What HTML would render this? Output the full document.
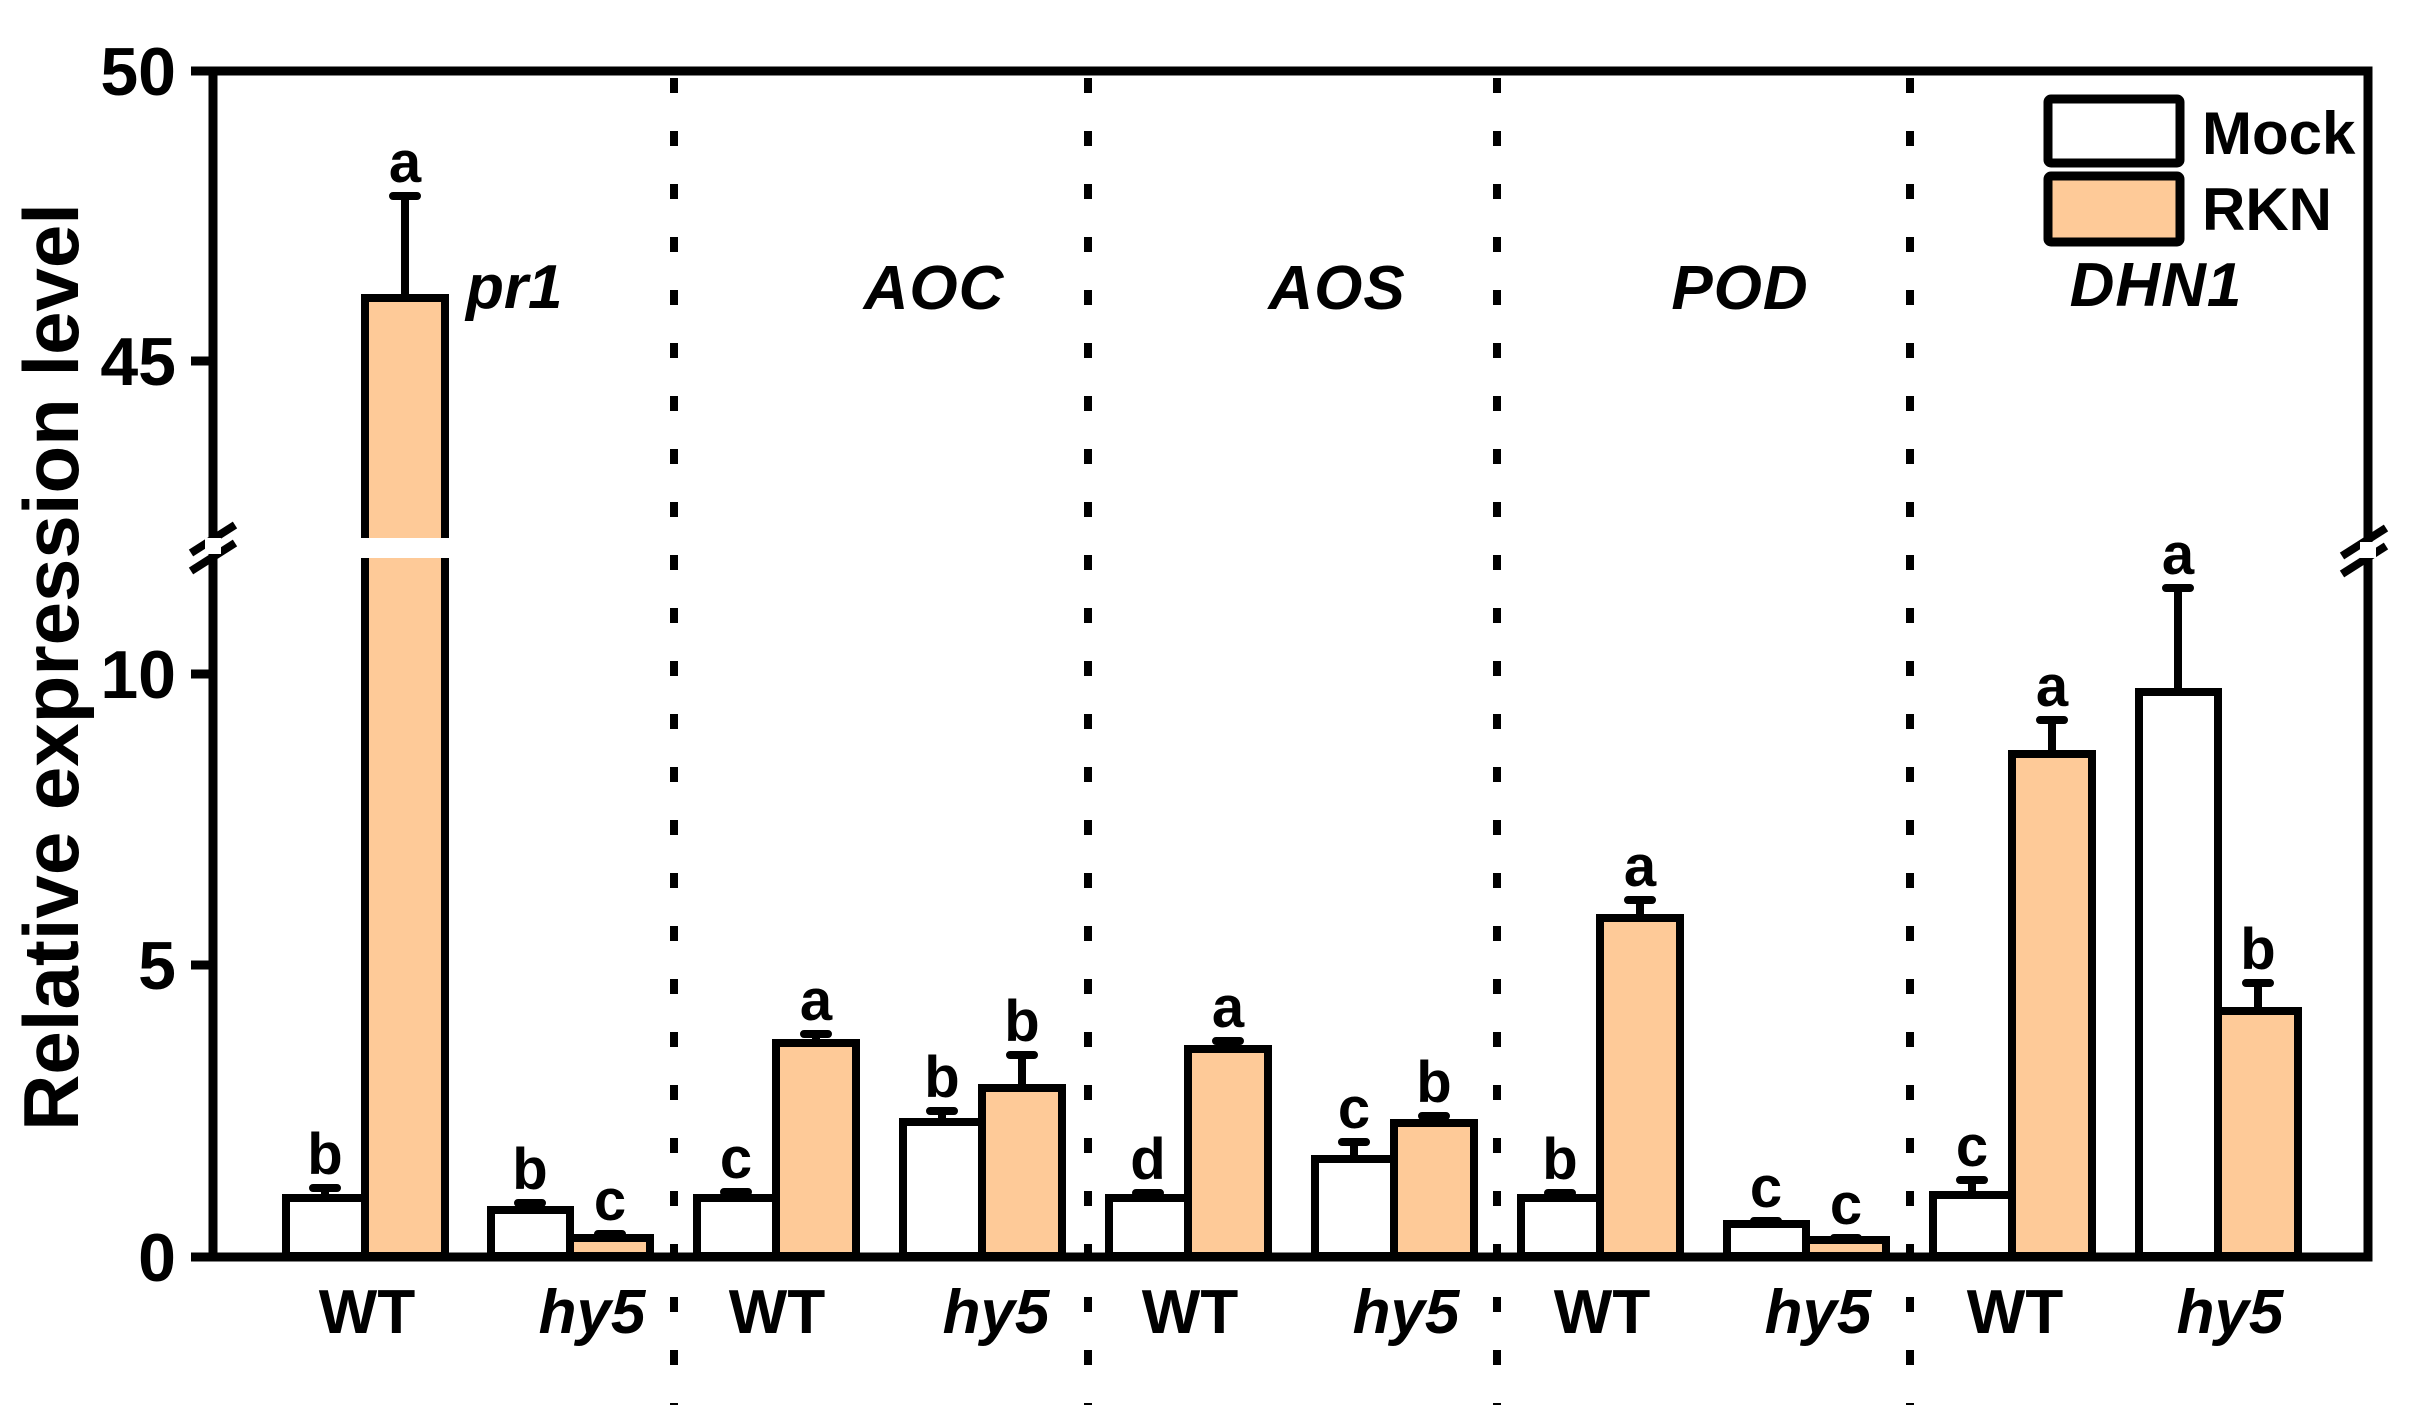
<!DOCTYPE html>
<html><head><meta charset="utf-8"><style>
html,body{margin:0;padding:0;background:#fff;}
svg{display:block;}
text{font-family:"Liberation Sans",Arial,sans-serif;font-weight:bold;fill:#000;}
</style></head><body>
<svg width="2414" height="1427" viewBox="0 0 2414 1427" xmlns="http://www.w3.org/2000/svg">
<g stroke="#000" stroke-width="8" stroke-dasharray="15 38">
<line x1="674" y1="78" x2="674" y2="1405"/>
<line x1="1088" y1="78" x2="1088" y2="1405"/>
<line x1="1497" y1="78" x2="1497" y2="1405"/>
<line x1="1910" y1="78" x2="1910" y2="1405"/>
</g>
<g stroke="#000" stroke-width="8" stroke-linejoin="miter">
<rect x="286" y="1198" width="79" height="58" fill="#fff"/>
<rect x="365" y="298" width="80" height="958" fill="#FECA98"/>
<rect x="491" y="1210" width="79" height="46" fill="#fff"/>
<rect x="570" y="1238" width="80" height="18" fill="#FECA98"/>
<rect x="697" y="1198" width="79" height="58" fill="#fff"/>
<rect x="776" y="1043" width="80" height="213" fill="#FECA98"/>
<rect x="903" y="1122" width="79" height="134" fill="#fff"/>
<rect x="982" y="1088" width="80" height="168" fill="#FECA98"/>
<rect x="1109" y="1198" width="79" height="58" fill="#fff"/>
<rect x="1188" y="1049" width="80" height="207" fill="#FECA98"/>
<rect x="1315" y="1159" width="79" height="97" fill="#fff"/>
<rect x="1394" y="1123" width="80" height="133" fill="#FECA98"/>
<rect x="1521" y="1198" width="79" height="58" fill="#fff"/>
<rect x="1600" y="918" width="80" height="338" fill="#FECA98"/>
<rect x="1727" y="1224" width="79" height="32" fill="#fff"/>
<rect x="1806" y="1240" width="80" height="16" fill="#FECA98"/>
<rect x="1933" y="1195" width="79" height="61" fill="#fff"/>
<rect x="2012" y="754" width="80" height="502" fill="#FECA98"/>
<rect x="2139" y="692" width="79" height="564" fill="#fff"/>
<rect x="2218" y="1011" width="80" height="245" fill="#FECA98"/>
</g>
<rect x="358" y="538" width="94" height="20" fill="#fff"/>
<g stroke="#000" stroke-width="8" stroke-linecap="round">
<path d="M325 1198V1188M313 1188H337"/>
<path d="M405 298V196M393 196H417"/>
<path d="M530 1210V1203M518 1203H542"/>
<path d="M610 1238V1234M598 1234H622"/>
<path d="M736 1198V1192M724 1192H748"/>
<path d="M816 1043V1034M804 1034H828"/>
<path d="M942 1122V1111M930 1111H954"/>
<path d="M1022 1088V1055M1010 1055H1034"/>
<path d="M1148 1198V1193M1136 1193H1160"/>
<path d="M1228 1049V1041M1216 1041H1240"/>
<path d="M1354 1159V1142M1342 1142H1366"/>
<path d="M1434 1123V1116M1422 1116H1446"/>
<path d="M1560 1198V1193M1548 1193H1572"/>
<path d="M1640 918V900M1628 900H1652"/>
<path d="M1766 1224V1221M1754 1221H1778"/>
<path d="M1846 1240V1238M1834 1238H1858"/>
<path d="M1972 1195V1180M1960 1180H1984"/>
<path d="M2052 754V720M2040 720H2064"/>
<path d="M2178 692V588M2166 588H2190"/>
<path d="M2258 1011V983M2246 983H2270"/>
</g>
<g stroke="#000" stroke-width="9" fill="none">
<path d="M213 71V1257H2368V71H213"/>
<path d="M191 71H213M191 361H213M191 674H213M191 965H213M191 1257H213"/>
</g>
<g stroke="#000" stroke-width="8">
<line x1="191" y1="553" x2="235" y2="525"/>
<line x1="191" y1="571" x2="235" y2="543"/>
<rect x="205" y="538" width="16" height="16" fill="#fff" stroke="none"/>
<line x1="2342" y1="556" x2="2386" y2="528"/>
<line x1="2342" y1="574" x2="2386" y2="546"/>
<rect x="2360" y="542" width="16" height="16" fill="#fff" stroke="none"/>
</g>
<g font-size="68" text-anchor="end">
<text x="176" y="95">50</text>
<text x="176" y="385">45</text>
<text x="176" y="698">10</text>
<text x="176" y="989">5</text>
<text x="176" y="1281">0</text>
</g>
<text transform="translate(78 667) rotate(-90)" font-size="78" text-anchor="middle">Relative expression level</text>
<g font-size="58" text-anchor="middle">
<text x="325" y="1174">b</text>
<text x="405" y="182">a</text>
<text x="530" y="1189">b</text>
<text x="610" y="1220">c</text>
<text x="736" y="1178">c</text>
<text x="816" y="1020">a</text>
<text x="942" y="1097">b</text>
<text x="1022" y="1041">b</text>
<text x="1148" y="1179">d</text>
<text x="1228" y="1027">a</text>
<text x="1354" y="1128">c</text>
<text x="1434" y="1102">b</text>
<text x="1560" y="1179">b</text>
<text x="1640" y="886">a</text>
<text x="1766" y="1207">c</text>
<text x="1846" y="1224">c</text>
<text x="1972" y="1166">c</text>
<text x="2052" y="706">a</text>
<text x="2178" y="574">a</text>
<text x="2258" y="969">b</text>
</g>
<g font-size="62" font-style="italic">
<text x="466" y="308">pr1</text>
<text x="934" y="309" text-anchor="middle" letter-spacing="1">AOC</text>
<text x="1337" y="309" text-anchor="middle" letter-spacing="1">AOS</text>
<text x="1740" y="309" text-anchor="middle" letter-spacing="1">POD</text>
<text x="2156" y="306" text-anchor="middle" letter-spacing="1">DHN1</text>
</g>
<g font-size="62" text-anchor="middle">
<text x="367" y="1333">WT</text>
<text x="592" y="1333" font-style="italic">hy5</text>
<text x="777" y="1333">WT</text>
<text x="996" y="1333" font-style="italic">hy5</text>
<text x="1190" y="1333">WT</text>
<text x="1406" y="1333" font-style="italic">hy5</text>
<text x="1602" y="1333">WT</text>
<text x="1818" y="1333" font-style="italic">hy5</text>
<text x="2015" y="1333">WT</text>
<text x="2230" y="1333" font-style="italic">hy5</text>
</g>
<g stroke="#000" stroke-width="9">
<rect x="2048" y="99" width="132" height="64" fill="#fff" rx="3"/>
<rect x="2048" y="176" width="132" height="66" fill="#FECA98" rx="3"/>
</g>
<g font-size="60">
<text x="2202" y="154">Mock</text>
<text x="2202" y="230">RKN</text>
</g>
</svg>
</body></html>
